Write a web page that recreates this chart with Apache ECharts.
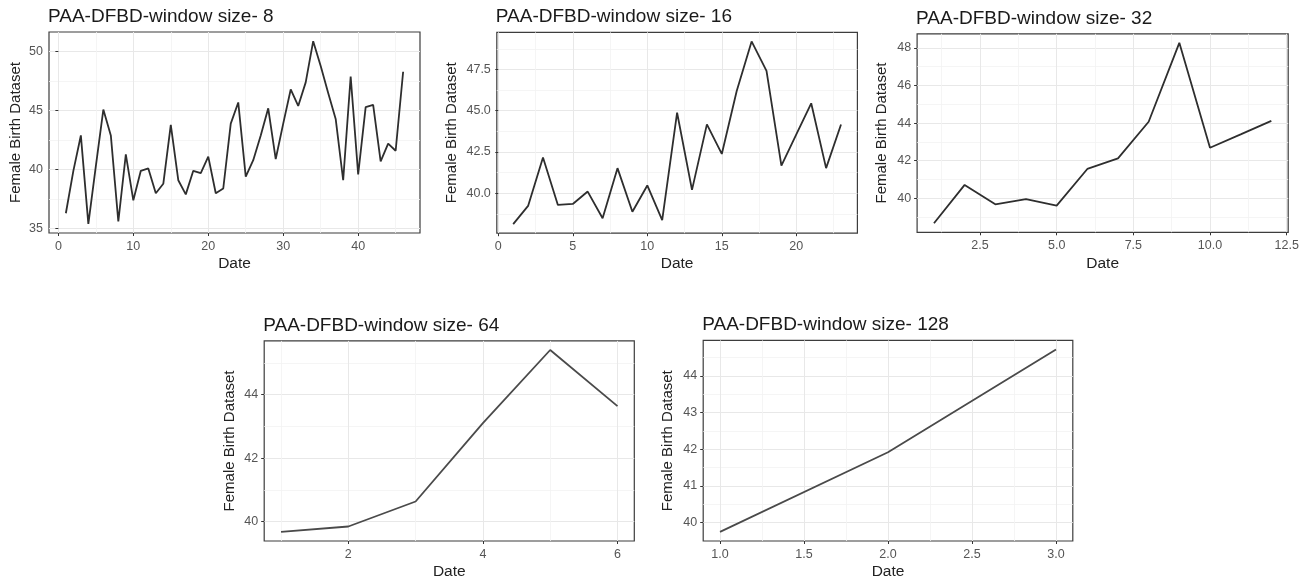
<!DOCTYPE html>
<html>
<head>
<meta charset="utf-8">
<title>PAA-DFBD window sizes</title>
<script src="https://cdn.jsdelivr.net/npm/echarts@6/dist/echarts.min.js"></script>
<style>
  html, body { margin: 0; padding: 0; background: #fff; }
  #chart { width: 1304px; height: 581px; }
</style>
</head>
<body>
<div id="chart"></div>
<script>
// PAA-reduced female birth series, one array per window size (x = segment index 1..n)
const window8 = [36.3, 39.9, 42.9, 35.4, 40.3, 45.1, 42.9, 35.6, 41.3, 37.4,
                 39.9, 40.1, 38.0, 38.8, 43.8, 39.1, 37.9, 39.9, 39.7, 41.1,
                 38.0, 38.4, 43.9, 45.7, 39.4, 40.8, 42.9, 45.2, 40.9, 43.9,
                 46.8, 45.4, 47.4, 50.9, 48.8, 46.5, 44.3, 39.1, 47.9, 39.6,
                 45.3, 45.5, 40.7, 42.2, 41.6, 48.3];
const window16 = [38.13, 39.23, 42.17, 39.29, 39.35, 40.1, 38.48, 41.52, 38.88, 40.47,
                  38.37, 44.88, 40.2, 44.17, 42.38, 46.2, 49.2, 47.42, 41.67, 43.56,
                  45.45, 41.52, 44.17];
const window32 = [38.67, 40.71, 39.68, 39.96, 39.61, 41.56, 42.12, 44.07, 48.27, 42.69, 43.4, 44.12];
const window64 = [39.67, 39.84, 40.63, 43.1, 45.41, 43.64];
const window128 = [39.75, 41.92, 44.72];

const titles = ['PAA-DFBD-window size- 8', 'PAA-DFBD-window size- 16', 'PAA-DFBD-window size- 32',
                'PAA-DFBD-window size- 64', 'PAA-DFBD-window size- 128'];

// tick values (major carry labels, minor are the faint in-between grid lines)
const xMajor = [[0, 10, 20, 30, 40], [0, 5, 10, 15, 20], [2.5, 5, 7.5, 10, 12.5], [2, 4, 6], [1, 1.5, 2, 2.5, 3]];
const xMinor = [[5, 15, 25, 35, 45], [2.5, 7.5, 12.5, 17.5, 22.5], [1.25, 3.75, 6.25, 8.75, 11.25], [1, 3, 5], [1.25, 1.75, 2.25, 2.75]];
const yMajor = [[35, 40, 45, 50], [40, 42.5, 45, 47.5], [40, 42, 44, 46, 48], [40, 42, 44], [40, 41, 42, 43, 44]];
const yMinor = [[37.5, 42.5, 47.5], [38.75, 41.25, 43.75, 46.25, 48.75], [39, 41, 43, 45, 47], [41, 43, 45], [40.5, 41.5, 42.5, 43.5, 44.5]];
const xDecimals = [0, 0, 1, 0, 1];
const yDecimals = [0, 1, 0, 0, 0];

const seriesData = [window8, window16, window32, window64, window128];

// panel boxes in pixels: [left, top, width, height]
const panels = [
  [49, 32, 371, 201],
  [496.8, 32.3, 360.6, 200.9],
  [917.1, 33.8, 371.1, 198.5],
  [264.2, 340.9, 370.1, 201.6],
  [703.2, 340.4, 369.6, 201.3]
];
const yNameGap = [26, 37, 28, 26.5, 27.5];

const FONT = 'Liberation Sans, Arial, sans-serif';

// 5% expansion on each side of the data range
function expand(lo, hi) {
  const pad = (hi - lo) * 0.05;
  return [lo - pad, hi + pad];
}

const grid = [], xAxis = [], yAxis = [], series = [], title = [];

seriesData.forEach(function (vals, i) {
  const p = panels[i];
  const pts = vals.map(function (v, k) { return [k + 1, v]; });
  const xr = expand(1, vals.length);
  const yr = expand(Math.min.apply(null, vals), Math.max.apply(null, vals));

  grid.push({
    left: p[0], top: p[1], width: p[2], height: p[3],
    show: true, backgroundColor: '#fff', borderColor: '#3d3d3d', borderWidth: 1.2,
    containLabel: false
  });

  title.push({
    text: titles[i], left: p[0] - 1, top: p[1] - 25, padding: 0,
    textStyle: { fontFamily: FONT, fontSize: 19, fontWeight: 'normal', color: '#1a1a1a' }
  });

  // main axes: ticks, labels, major grid lines, axis titles
  xAxis.push({
    type: 'value', gridIndex: i, min: xr[0], max: xr[1], position: 'bottom',
    axisLine: { show: false },
    axisTick: { show: true, length: 3, lineStyle: { color: '#333', width: 1 }, customValues: xMajor[i] },
    axisLabel: {
      customValues: xMajor[i], margin: 7, color: '#555', fontSize: 12.5, fontFamily: FONT,
      formatter: function (v) { return Number(v).toFixed(xDecimals[i]); }
    },
    splitLine: { show: true, lineStyle: { color: '#e8e8e8', width: 1 } },
    name: 'Date', nameLocation: 'middle', nameGap: 23,
    nameTextStyle: { fontFamily: FONT, fontSize: 15.5, color: '#222' }
  });
  yAxis.push({
    type: 'value', gridIndex: i, min: yr[0], max: yr[1], position: 'left',
    axisLine: { show: false },
    axisTick: { show: true, length: 3, lineStyle: { color: '#333', width: 1 }, customValues: yMajor[i] },
    axisLabel: {
      customValues: yMajor[i], margin: 6, color: '#555', fontSize: 12.5, fontFamily: FONT,
      formatter: function (v) { return Number(v).toFixed(yDecimals[i]); }
    },
    splitLine: { show: true, lineStyle: { color: '#e8e8e8', width: 1 } },
    name: 'Female Birth Dataset', nameLocation: 'middle', nameGap: yNameGap[i],
    nameTextStyle: { fontFamily: FONT, fontSize: 15, color: '#222' }
  });

  series.push({
    type: 'line', xAxisIndex: xAxis.length - 1, yAxisIndex: yAxis.length - 1,
    data: pts, showSymbol: false, symbol: 'none', silent: true,
    lineStyle: { color: i < 3 ? '#2e2e2e' : '#4a4a4a', width: 1.8 },
    z: 5
  });
});

// secondary silent axes carry only the faint minor grid lines
seriesData.forEach(function (vals, i) {
  const xr = expand(1, vals.length);
  const yr = expand(Math.min.apply(null, vals), Math.max.apply(null, vals));
  xAxis.push({
    type: 'value', gridIndex: i, min: xr[0], max: xr[1], position: 'top',
    axisLine: { show: false }, axisLabel: { show: false },
    axisTick: { show: false, customValues: xMinor[i] },
    splitLine: { show: true, lineStyle: { color: '#f3f3f3', width: 0.8 } }, z: 0
  });
  yAxis.push({
    type: 'value', gridIndex: i, min: yr[0], max: yr[1], position: 'right',
    axisLine: { show: false }, axisLabel: { show: false },
    axisTick: { show: false, customValues: yMinor[i] },
    splitLine: { show: true, lineStyle: { color: '#f3f3f3', width: 0.8 } }, z: 0
  });
});

const chart = echarts.init(document.getElementById('chart'), null, { renderer: 'canvas' });
chart.setOption({
  animation: false,
  backgroundColor: '#fff',
  title: title,
  grid: grid,
  xAxis: xAxis,
  yAxis: yAxis,
  series: series
});
</script>
</body>
</html>
